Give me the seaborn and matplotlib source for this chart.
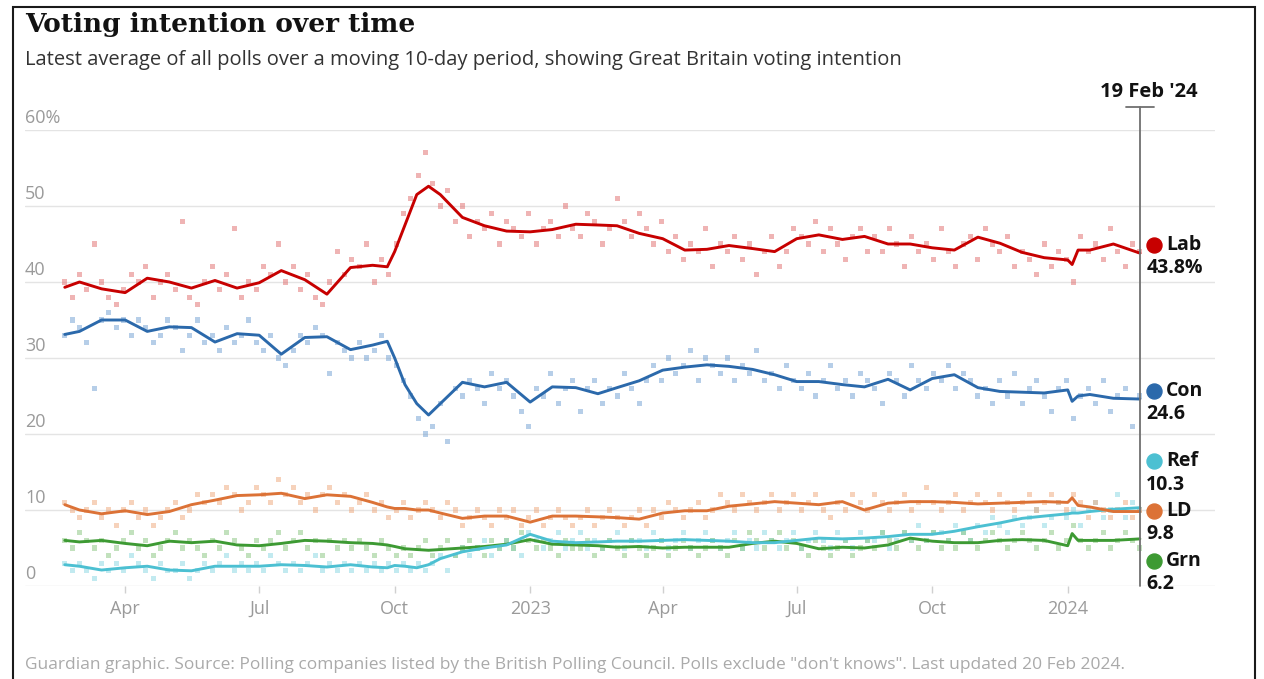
import numpy as np
import pandas as pd
import matplotlib
matplotlib.use("Agg")
import matplotlib.pyplot as plt
import matplotlib.transforms as mtransforms
import seaborn as sns
from matplotlib.patches import Rectangle
from matplotlib.transforms import blended_transform_factory

# ---- 10-day rolling average for each party --------------------------------
avg_dates = [
    "2022-02-19", "2022-03-01", "2022-03-16", "2022-04-01", "2022-04-16", "2022-05-01",
    "2022-05-16", "2022-06-01", "2022-06-16", "2022-07-01", "2022-07-16", "2022-08-01",
    "2022-08-16", "2022-09-01", "2022-09-16", "2022-09-26", "2022-10-01", "2022-10-08",
    "2022-10-16", "2022-10-24", "2022-11-01", "2022-11-16", "2022-12-01", "2022-12-16",
    "2023-01-01", "2023-01-16", "2023-02-01", "2023-02-16", "2023-03-01", "2023-03-16",
    "2023-04-01", "2023-04-16", "2023-05-01", "2023-05-16", "2023-06-01", "2023-06-16",
    "2023-07-01", "2023-07-16", "2023-08-01", "2023-08-16", "2023-09-01", "2023-09-16",
    "2023-10-01", "2023-10-16", "2023-11-01", "2023-11-16", "2023-12-01", "2023-12-16",
    "2024-01-01", "2024-01-04", "2024-01-08", "2024-01-16", "2024-02-01", "2024-02-19",
]
lab_avg = [
    39.3, 40.0, 39.1, 38.6, 40.5, 40.0, 39.2, 40.2, 39.2, 39.9, 41.5, 40.3,
    38.4, 41.9, 42.2, 42.0, 44.0, 47.5, 51.5, 52.6, 51.5, 48.5, 47.4, 46.7,
    46.6, 46.9, 47.6, 47.5, 47.4, 46.4, 45.7, 44.2, 44.3, 44.8, 44.4, 44.0,
    45.7, 46.2, 45.6, 46.0, 45.0, 45.0, 44.5, 44.2, 45.9, 45.1, 43.9, 43.2,
    42.9, 42.3, 44.2, 44.2, 45.0, 43.8,
]
con_avg = [
    33.1, 33.5, 35.0, 35.0, 33.5, 34.1, 34.0, 32.1, 33.2, 33.0, 30.5, 32.7,
    32.8, 31.1, 31.7, 32.2, 30.0, 26.5, 24.0, 22.5, 24.0, 26.8, 26.2, 26.8,
    24.2, 26.2, 26.1, 25.3, 26.1, 27.0, 28.4, 28.8, 29.1, 28.9, 28.5, 27.8,
    26.9, 26.9, 26.5, 26.2, 27.2, 25.8, 27.3, 27.8, 26.1, 25.6, 25.5, 25.4,
    25.8, 24.3, 25.0, 25.2, 24.7, 24.6,
]
ld_avg = [
    10.7, 10.0, 9.5, 9.9, 9.4, 9.8, 10.7, 11.3, 11.9, 12.0, 12.2, 11.5,
    12.0, 11.8, 11.0, 10.4, 10.2, 10.2, 10.0, 10.0, 9.6, 8.9, 9.2, 9.2,
    8.4, 9.2, 9.2, 9.1, 9.0, 8.8, 9.6, 9.9, 9.9, 10.5, 10.8, 11.1,
    10.9, 10.7, 11.1, 10.0, 10.9, 11.1, 11.1, 11.0, 10.8, 10.9, 11.0, 11.1,
    11.0, 11.6, 10.6, 10.4, 9.8, 9.8,
]
grn_avg = [
    6.0, 5.8, 6.0, 5.6, 5.3, 5.9, 5.7, 5.9, 5.4, 5.3, 5.6, 6.0,
    5.9, 5.7, 5.6, 5.4, 5.2, 4.9, 4.8, 4.7, 4.8, 5.0, 5.2, 5.5,
    6.1, 5.5, 5.4, 5.3, 5.1, 5.2, 5.0, 5.1, 5.1, 5.1, 5.6, 5.9,
    5.6, 4.9, 5.1, 5.0, 5.4, 6.3, 5.9, 5.7, 5.7, 6.0, 6.1, 6.0,
    5.3, 6.9, 6.0, 6.0, 6.0, 6.2,
]
ref_avg = [
    2.8, 2.6, 2.1, 2.4, 2.6, 2.1, 2.0, 2.6, 2.6, 2.6, 2.8, 2.7,
    2.5, 2.8, 2.5, 2.4, 2.7, 2.6, 2.4, 2.8, 3.6, 4.5, 5.0, 5.4,
    6.8, 5.9, 5.7, 5.8, 5.9, 5.9, 6.0, 6.1, 6.0, 5.9, 5.7, 5.7,
    6.0, 6.3, 6.2, 6.3, 6.5, 6.8, 6.8, 7.2, 7.8, 8.3, 8.9, 9.2,
    9.5, 9.6, 9.6, 9.8, 10.1, 10.3,
]

# ---- individual polls, one every five days from the first date -----------
poll_start = "2022-02-19"
poll_step_days = 5
lab_polls = [
    40, 38, 41, 39, 45, 40, 38, 37, 39, 41,
    40, 42, 38, 40, 41, 39, 48, 38, 37, 40,
    42, 39, 41, 47, 38, 40, 39, 42, 41, 45,
    40, 42, 39, 41, 38, 37, 40, 44, 41, 43,
    42, 45, 40, 43, 41, 45, 49, 51, 54, 57,
    53, 50, 52, 48, 50, 46, 48, 47, 49, 45,
    48, 47, 46, 49, 45, 47, 48, 46, 50, 47,
    46, 49, 48, 45, 47, 51, 48, 46, 49, 47,
    45, 48, 44, 46, 43, 45, 44, 47, 42, 45,
    44, 46, 43, 45, 41, 44, 46, 42, 44, 47,
    46, 45, 48, 44, 47, 45, 43, 46, 47, 44,
    46, 44, 47, 45, 42, 46, 44, 45, 43, 47,
    44, 42, 45, 46, 43, 47, 45, 44, 46, 42,
    44, 43, 41, 45, 42, 44, 43, 40, 46, 44,
    45, 43, 47, 44, 42, 45, 44,
]
con_polls = [
    33, 35, 34, 32, 26, 35, 36, 34, 35, 33,
    35, 34, 32, 33, 35, 34, 31, 33, 35, 32,
    33, 31, 34, 32, 33, 35, 32, 31, 33, 30,
    29, 31, 33, 32, 34, 33, 28, 32, 31, 30,
    32, 30, 31, 33, 30, 29, 27, 25, 22, 20,
    21, 24, 19, 26, 25, 27, 26, 24, 28, 26,
    27, 25, 23, 21, 26, 25, 28, 24, 26, 27,
    23, 26, 27, 24, 26, 25, 28, 26, 24, 27,
    29, 27, 30, 28, 29, 31, 27, 30, 29, 28,
    30, 27, 29, 28, 31, 27, 28, 26, 29, 27,
    26, 28, 25, 27, 29, 26, 27, 25, 28, 27,
    26, 24, 28, 27, 25, 29, 27, 26, 28, 27,
    29, 26, 28, 27, 25, 26, 24, 27, 25, 28,
    24, 26, 27, 25, 23, 26, 27, 22, 25, 26,
    24, 27, 23, 25, 26, 21, 25,
]
ld_polls = [
    11, 10, 9, 10, 11, 9, 10, 8, 10, 11,
    9, 10, 8, 9, 10, 11, 9, 10, 12, 11,
    12, 11, 13, 12, 10, 11, 13, 12, 11, 14,
    12, 13, 11, 12, 10, 12, 13, 11, 12, 10,
    11, 12, 10, 11, 9, 10, 11, 9, 10, 11,
    10, 9, 11, 10, 8, 9, 10, 9, 8, 10,
    9, 10, 8, 9, 10, 8, 9, 10, 9, 8,
    9, 10, 8, 9, 10, 9, 8, 9, 10, 8,
    10, 9, 11, 10, 9, 10, 11, 9, 10, 12,
    11, 10, 12, 11, 10, 11, 12, 10, 11, 12,
    10, 11, 12, 10, 9, 11, 10, 12, 11, 10,
    12, 11, 10, 11, 12, 10, 11, 13, 11, 10,
    11, 12, 10, 11, 12, 11, 10, 12, 11, 10,
    11, 12, 10, 11, 12, 11, 10, 12, 11, 9,
    11, 10, 9, 10, 11, 9, 10,
]
grn_polls = [
    6, 5, 7, 6, 5, 6, 4, 5, 6, 7,
    5, 6, 4, 5, 6, 7, 5, 6, 5, 4,
    6, 5, 7, 6, 5, 4, 6, 5, 6, 7,
    5, 6, 7, 5, 6, 4, 6, 5, 6, 5,
    6, 5, 4, 6, 5, 4, 5, 4, 5, 6,
    4, 5, 6, 4, 5, 6, 5, 4, 6, 5,
    6, 5, 7, 6, 5, 6, 5, 4, 6, 5,
    5, 6, 4, 5, 6, 5, 4, 6, 5, 4,
    5, 6, 4, 5, 6, 5, 4, 5, 6, 5,
    4, 6, 5, 7, 6, 5, 6, 7, 5, 6,
    5, 4, 6, 5, 4, 5, 6, 4, 5, 6,
    5, 7, 6, 5, 7, 6, 5, 6, 7, 5,
    6, 5, 7, 6, 5, 6, 7, 6, 5, 6,
    7, 6, 5, 6, 7, 5, 6, 8, 6, 5,
    6, 7, 5, 6, 7, 6, 5,
]
ref_polls = [
    3, 2, 3, 2, 1, 3, 2, 3, 2, 4,
    3, 2, 1, 3, 2, 2, 3, 1, 2, 3,
    2, 3, 4, 2, 3, 2, 3, 2, 4, 3,
    2, 3, 2, 3, 4, 2, 3, 2, 3, 2,
    3, 2, 3, 2, 3, 2, 3, 2, 3, 2,
    3, 4, 2, 4, 5, 4, 5, 6, 4, 5,
    6, 5, 4, 7, 6, 5, 6, 7, 5, 6,
    7, 5, 6, 5, 6, 7, 5, 6, 6, 5,
    7, 6, 5, 6, 7, 5, 6, 7, 6, 5,
    6, 7, 5, 6, 5, 7, 6, 5, 6, 7,
    5, 6, 7, 6, 5, 7, 6, 5, 7, 6,
    6, 7, 5, 6, 7, 6, 8, 6, 7, 7,
    6, 8, 7, 6, 8, 7, 9, 8, 7, 9,
    8, 9, 10, 8, 9, 11, 9, 10, 8, 10,
    11, 9, 10, 12, 9, 11, 10,
]

parties = ["Lab", "Con", "Ref", "LD", "Grn"]
latest_text = {"Lab": "43.8%", "Con": "24.6", "Ref": "10.3", "LD": "9.8", "Grn": "6.2"}
y_ticks = [0, 10, 20, 30, 40, 50, 60]
x_tick_dates = ["2022-04-01", "2022-07-01", "2022-10-01", "2023-01-01",
                "2023-04-01", "2023-07-01", "2023-10-01", "2024-01-01"]
x_tick_labels = ["Apr", "Jul", "Oct", "2023", "Apr", "Jul", "Oct", "2024"]
last_date = "2024-02-19"

# ---- styling --------------------------------------------------------------
line_colors = {"Lab": "#c70000", "Con": "#2b69ab", "Ref": "#4cc0d2",
               "LD": "#dc7236", "Grn": "#3d9a33"}
dot_colors = {"Lab": "#e06a6a", "Con": "#6f9fd2", "Ref": "#86d6e2",
              "LD": "#eea679", "Grn": "#86c47c"}
sans = ["Open Sans", "DejaVu Sans"]

sns.set_theme(style="white")
plt.rcParams["font.family"] = sans

avg = pd.DataFrame({"date": pd.to_datetime(avg_dates), "Lab": lab_avg, "Con": con_avg,
                    "Ref": ref_avg, "LD": ld_avg, "Grn": grn_avg})
avg_long = avg.melt("date", var_name="party", value_name="share")

poll_dates = pd.date_range(poll_start, periods=len(lab_polls), freq=f"{poll_step_days}D")
polls = pd.DataFrame({"date": poll_dates, "Lab": lab_polls, "Con": con_polls,
                      "Ref": ref_polls, "LD": ld_polls, "Grn": grn_polls})
polls_long = polls.melt("date", var_name="party", value_name="share")

fig = plt.figure(figsize=(12.64, 6.79), dpi=100)
W, H = 1264, 679
ax = fig.add_axes([25 / W, 1 - 586 / H, (1215 - 25) / W, (586 - 130) / H])

# poll dots
sns.scatterplot(data=polls_long, x="date", y="share", hue="party", palette=dot_colors,
                hue_order=parties, marker="s", s=13, alpha=0.5, linewidth=0,
                legend=False, ax=ax, zorder=2)

# rolling averages, drawn so the larger parties sit on top
for p in ["Grn", "Ref", "LD", "Con", "Lab"]:
    sns.lineplot(data=avg_long[avg_long.party == p], x="date", y="share",
                 color=line_colors[p], linewidth=2.1, ax=ax, zorder=3, legend=False)

start = pd.Timestamp(poll_start)
end = pd.Timestamp(last_date)
ax.set_xlim(start - pd.Timedelta(days=27), start + pd.Timedelta(days=781))
ax.set_ylim(0, 60)

# grid lines and y labels sitting above them
for v in y_ticks:
    ax.axhline(v, color="#e4e4e4", linewidth=1.0, zorder=0)
trans = blended_transform_factory(ax.transAxes, ax.transData)
for v in y_ticks:
    ax.text(0.0, v + 0.4, f"{v}%" if v == 60 else f"{v}", transform=trans,
            ha="left", va="bottom", fontsize=13, color="#9a9a9a")

ax.set_yticks([])
ax.set_xticks(pd.to_datetime(x_tick_dates))
ax.set_xticklabels(x_tick_labels)
ax.tick_params(axis="x", length=5, width=1, color="#d0d0d0", labelsize=13,
               labelcolor="#9a9a9a", pad=5, bottom=True)
ax.set_xlabel("")
ax.set_ylabel("")
for s in ax.spines.values():
    s.set_visible(False)

# marker for the latest date
ax.plot([end, end], [0, 63], color="#707070", linewidth=1.3, clip_on=False, zorder=4)
ax.plot([end - pd.Timedelta(days=9.5), end + pd.Timedelta(days=9.5)], [63, 63],
        color="#707070", linewidth=1.3, clip_on=False, zorder=4)
ax.annotate("19 Feb '24", xy=(end, 63), xytext=(6.5, 3.5), textcoords="offset points",
            ha="center", va="bottom", fontsize=14.5, fontweight="bold", color="#121212",
            annotation_clip=False)

# end labels, spread apart where they would collide
latest = {p: avg[p].iloc[-1] for p in parties}
gap, floor = 6.55, 3.2
order = sorted(parties, key=lambda p: latest[p], reverse=True)
groups = [[p] for p in order]
want = {p: latest[p] + 1.1 for p in parties}
changed = True
while changed:
    changed = False
    pos = {}
    for g in groups:
        centre = np.mean([want[p] for p in g])
        top = centre + gap * (len(g) - 1) / 2
        for i, p in enumerate(g):
            pos[p] = top - gap * i
    for i in range(len(groups) - 1):
        if pos[groups[i][-1]] - pos[groups[i + 1][0]] < gap:
            groups[i] = groups[i] + groups[i + 1]
            del groups[i + 1]
            changed = True
            break
shift = max(0.0, floor - min(pos.values()))

dot_trans = mtransforms.offset_copy(ax.transData, fig=fig, x=14, y=0, units="dots")
for p in parties:
    y = pos[p] + shift
    ax.plot([end], [y], marker="o", markersize=10.8, color=line_colors[p], clip_on=False,
            zorder=5, transform=dot_trans, linestyle="none")
    ax.annotate(p, xy=(end, y), xytext=(18.7, 0), textcoords="offset points",
                ha="left", va="center", fontsize=14, fontweight="bold", color="#121212",
                annotation_clip=False)
    ax.annotate(latest_text[p], xy=(end, y), xytext=(4.5, -16.8), textcoords="offset points",
                ha="left", va="center", fontsize=14, fontweight="bold", color="#121212",
                annotation_clip=False)

# headings and source note
fig.text(25 / W, 1 - 32 / H, "Voting intention over time", ha="left", va="baseline",
         fontsize=19, fontweight="bold", family="DejaVu Serif", color="#121212")
fig.text(25 / W, 1 - 65 / H,
         "Latest average of all polls over a moving 10-day period, showing Great Britain voting intention",
         ha="left", va="baseline", fontsize=14.5, color="#333333")
fig.text(25 / W, 1 - 669 / H,
         "Guardian graphic. Source: Polling companies listed by the British Polling Council. "
         "Polls exclude \"don't knows\". Last updated 20 Feb 2024.",
         ha="left", va="baseline", fontsize=12.5, color="#aaaaaa")

# outer frame
fig.patches.append(Rectangle((13 / W, -0.02), (1255 - 13) / W, 1 - 7 / H + 0.02,
                             transform=fig.transFigure, fill=False, edgecolor="#1a1a1a",
                             linewidth=1.5))

fig.savefig("out.png", dpi=100)
